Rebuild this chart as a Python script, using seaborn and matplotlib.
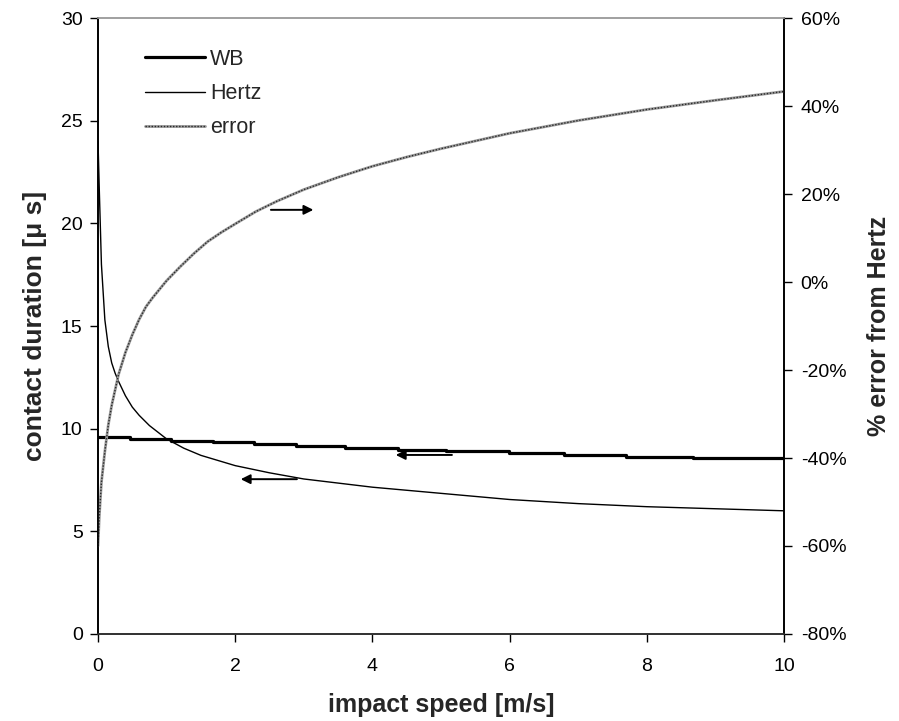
import matplotlib
matplotlib.use("Agg")
import matplotlib.pyplot as plt
import seaborn as sns
import pandas as pd
from matplotlib.ticker import FuncFormatter
from matplotlib.legend_handler import HandlerTuple

# ---- data ----
speed_wb = [0.0, 0.46, 1.07, 1.67, 2.28, 2.88, 3.60, 4.37, 5.07, 5.99, 6.80, 7.69, 8.67, 10.0]
wb = [9.58, 9.49, 9.41, 9.33, 9.24, 9.16, 9.07, 8.98, 8.90, 8.81, 8.73, 8.64, 8.55, 8.55]

speed_hertz = [0.0, 0.02, 0.05, 0.1, 0.15, 0.2, 0.25, 0.3, 0.4, 0.5, 0.6, 0.75, 1.0, 1.25,
               1.5, 2.0, 2.5, 3.0, 3.5, 4.0, 5.0, 6.0, 7.0, 8.0, 9.0, 10.0]
hertz = [24.0, 21.5, 18.0, 15.3, 14.0, 13.2, 12.7, 12.3, 11.6, 11.05, 10.65, 10.15, 9.5, 9.05,
         8.7, 8.2, 7.85, 7.55, 7.35, 7.15, 6.85, 6.55, 6.35, 6.2, 6.1, 6.0]

speed_err = [0.0, 0.02, 0.05, 0.1, 0.15, 0.2, 0.3, 0.4, 0.5, 0.6, 0.7, 0.8, 0.9, 1.0, 1.2,
             1.4, 1.6, 1.8, 2.0, 2.3, 2.6, 3.0, 3.5, 4.0, 4.5, 5.0, 6.0, 7.0, 8.0, 9.0, 10.0]
err = [-60, -53, -45.5, -38.5, -32.5, -28, -21, -16, -12, -8.5, -5.6, -3.5, -1.6, 0.3, 3.5,
       6.5, 9.2, 11.3, 13.2, 16.0, 18.3, 21.0, 23.8, 26.3, 28.4, 30.3, 33.8, 36.7, 39.2, 41.3, 43.3]

x_ticks = [0, 2, 4, 6, 8, 10]
left_ticks = [0, 5, 10, 15, 20, 25, 30]
right_ticks = [-80, -60, -40, -20, 0, 20, 40, 60]

# arrows: (tail_x, head_x, y)
arrow_err = (2.48, 3.18, 16.4)
arrow_wb = (5.2, 4.3, 8.72)
arrow_hertz = (2.94, 2.04, 7.54)

sns.set_style("ticks")
plt.rcParams["font.family"] = ["Liberation Sans", "DejaVu Sans"]
plt.rcParams["axes.unicode_minus"] = False

fig = plt.figure(figsize=(8.99, 7.21), dpi=100)
ax = fig.add_axes([98 / 899, 1 - 634 / 721, (784 - 98) / 899, (634 - 18) / 721])
ax2 = ax.twinx()

df_wb = pd.DataFrame({"speed": speed_wb, "t": wb})
df_h = pd.DataFrame({"speed": speed_hertz, "t": hertz})
df_e = pd.DataFrame({"speed": speed_err, "e": err})

sns.lineplot(data=df_wb, x="speed", y="t", ax=ax, color="black", lw=2.3,
             drawstyle="steps-post", label="WB", legend=False)
sns.lineplot(data=df_h, x="speed", y="t", ax=ax, color="black", lw=1.0,
             label="Hertz", legend=False)
sns.lineplot(data=df_e, x="speed", y="e", ax=ax2, color="#9a9a9a", lw=2.0,
             label="error", legend=False)
sns.lineplot(data=df_e, x="speed", y="e", ax=ax2, color="#2a2a2a", lw=1.0,
             linestyle=(0, (1, 1.2)), legend=False)

ax.set_xlim(0, 10)
ax.set_ylim(0, 30)
ax2.set_ylim(-80, 60)
ax.set_xticks(x_ticks)
ax.set_yticks(left_ticks)
ax2.set_yticks(right_ticks)
ax2.yaxis.set_major_formatter(FuncFormatter(lambda v, p: f"{v:.0f}%"))

for a in (ax, ax2):
    a.tick_params(direction="out", length=6, width=1, labelsize=14, colors="black")
    for s in a.spines.values():
        s.set_linewidth(1.2)
        s.set_color("black")
    a.spines["top"].set_color("#a0a0a0")
    a.spines["top"].set_visible(True)
    a.spines["right"].set_visible(True)
    a.spines["bottom"].set_color("#303030")
ax.tick_params(axis="x", pad=11)
ax.tick_params(axis="y", pad=5)
ax2.tick_params(axis="y", pad=6)

ax.set_xlabel("impact speed [m/s]", fontsize=18, fontweight="bold", labelpad=13)
ax.set_ylabel("contact duration [\u03bc s]", fontsize=19, fontweight="bold", labelpad=10)
ax2.set_ylabel("% error from Hertz", fontsize=18, fontweight="bold", labelpad=15)

aprops = dict(arrowstyle="-|>", color="black", lw=1.4, mutation_scale=14)
ax2.annotate("", xy=(arrow_err[1], arrow_err[2]), xytext=(arrow_err[0], arrow_err[2]),
             arrowprops=aprops)
ax.annotate("", xy=(arrow_wb[1], arrow_wb[2]), xytext=(arrow_wb[0], arrow_wb[2]),
            arrowprops=aprops)
ax.annotate("", xy=(arrow_hertz[1], arrow_hertz[2]), xytext=(arrow_hertz[0], arrow_hertz[2]),
            arrowprops=aprops)

lines1 = ax.get_lines()
lines2 = ax2.get_lines()
handles = [lines1[0], lines1[1], (lines2[0], lines2[1])]
labels = ["WB", "Hertz", "error"]
ax2.legend(handles, labels, loc="upper left", bbox_to_anchor=(0.068, 0.95),
           frameon=False, fontsize=15.5, handlelength=2.8, handletextpad=0.23,
           labelspacing=0.62, borderpad=0, borderaxespad=0,
           handler_map={tuple: HandlerTuple(ndivide=1)})

fig.savefig("out.png", dpi=100)
